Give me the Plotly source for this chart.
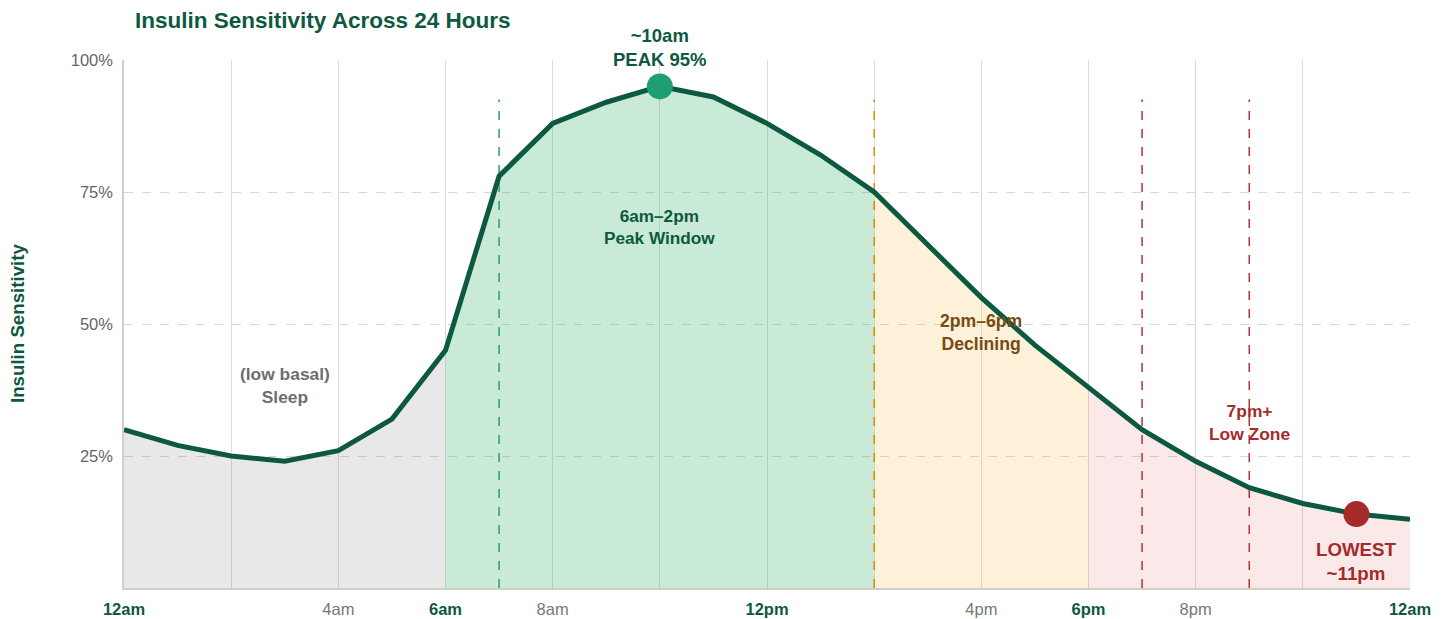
import plotly.graph_objects as go

# Hour of day (0 = midnight) and relative insulin sensitivity (%)
hours = list(range(25))
sensitivity = [30, 27, 25, 24, 26, 32, 45, 78, 88, 92, 95, 93, 88, 82, 75,
               65, 55, 46, 38, 30, 24, 19, 16, 14, 13]

# Shaded zones: (start hour, end hour, fill colour)
zones = [
    (0, 6, "rgba(140,140,140,0.20)"),
    (6, 14, "rgba(72,185,118,0.30)"),
    (14, 18, "rgba(245,185,65,0.20)"),
    (18, 24, "rgba(228,108,108,0.15)"),
]

# Dashed markers at zone edges: (hour, colour)
markers_v = [(7, "#2a9d6f"), (14, "#e08a00"), (19, "#b83232"), (21, "#b83232")]
marker_top = 92.5

tick_vals = [0, 4, 6, 8, 12, 16, 18, 20, 24]
tick_names = ["12am", "4am", "6am", "8am", "12pm", "4pm", "6pm", "8pm", "12am"]
tick_bold = [True, False, True, False, True, False, True, False, True]

y_ticks = [25, 50, 75, 100]
y_labels = ["25%", "50%", "75%", "100%"]

peak_hour, peak_val = 10, 95
low_hour, low_val = 23, 14

DARK = "#0d5940"
FONT = "Liberation Sans, Arial, sans-serif"

fig = go.Figure()

for start, end, color in zones:
    xs = [h for h in hours if start <= h <= end]
    ys = [sensitivity[h] for h in xs]
    fig.add_trace(go.Scatter(x=xs, y=ys, mode="lines", fill="tozeroy",
                             fillcolor=color, line=dict(width=0),
                             hoverinfo="skip", showlegend=False))

for h, c in markers_v:
    fig.add_trace(go.Scatter(x=[h, h], y=[0, marker_top], mode="lines",
                             line=dict(color=c, width=1.5, dash="dash"),
                             hoverinfo="skip", showlegend=False))

fig.add_trace(go.Scatter(x=hours, y=sensitivity, mode="lines",
                         line=dict(color=DARK, width=5),
                         showlegend=False, cliponaxis=False))

fig.add_trace(go.Scatter(x=[peak_hour], y=[peak_val], mode="markers",
                         marker=dict(size=26, color="#1f9e72"),
                         showlegend=False, cliponaxis=False))
fig.add_trace(go.Scatter(x=[low_hour], y=[low_val], mode="markers",
                         marker=dict(size=26, color="#a52a2a"),
                         showlegend=False, cliponaxis=False))

tick_text = []
for name, bold in zip(tick_names, tick_bold):
    if bold:
        tick_text.append(f"<b><span style='color:{DARK}'>{name}</span></b>")
    else:
        tick_text.append(f"<span style='color:#777777'>{name}</span>")

# Peak label sits above the marker, offset in pixels
fig.add_annotation(x=peak_hour, y=peak_val, yshift=39,
                   text="<b>~10am<br>PEAK 95%</b>", showarrow=False,
                   font=dict(size=18.5, color=DARK, family=FONT))

labels = [
    (10, 68.4, "6am–2pm<br>Peak Window", DARK, 17.2),
    (3, 38.4, "(low basal)<br>Sleep", "#6e6e6e", 17.4),
    (16, 48.3, "2pm–6pm<br>Declining", "#7a4a10", 17.6),
    (21, 31.4, "7pm+<br>Low Zone", "#a52a2a", 17.4),
    (low_hour, 5.1, "LOWEST<br>~11pm", "#a52a2a", 18.7),
]
for x, y, txt, col, sz in labels:
    fig.add_annotation(x=x, y=y, text=f"<b>{txt}</b>", showarrow=False,
                       font=dict(size=sz, color=col, family=FONT))

fig.add_annotation(xref="paper", yref="paper", x=0, y=0.5, xshift=-107,
                   xanchor="center", yanchor="middle",
                   text="<b>Insulin Sensitivity</b>", textangle=-90,
                   showarrow=False, font=dict(size=18.7, color=DARK, family=FONT))

fig.update_layout(
    width=1448, height=619,
    margin=dict(l=124, r=38, t=60, b=31),
    plot_bgcolor="white", paper_bgcolor="white",
    font=dict(family=FONT),
    title=dict(text="<b>Insulin Sensitivity Across 24 Hours</b>",
               x=135 / 1448, xanchor="left", xref="container",
               y=1 - 20 / 619, yanchor="middle", yref="container",
               font=dict(size=22.5, color=DARK, family=FONT)),
    xaxis=dict(range=[0, 24], tickvals=tick_vals, ticktext=tick_text,
               automargin=False,
               showgrid=True, gridcolor="#dcdcd2", gridwidth=1,
               minor=dict(tick0=0, dtick=2, showgrid=True,
                          gridcolor="#dcdcd2", gridwidth=1),
               showline=True, linecolor="#d0d0c6", linewidth=1.5,
               ticks="outside", ticklen=5, tickcolor="rgba(0,0,0,0)",
               tickfont=dict(size=16.5, family=FONT), zeroline=False),
    yaxis=dict(range=[0, 100], tickvals=y_ticks, ticktext=y_labels,
               automargin=False,
               showgrid=True, gridcolor="#d8d8cf", griddash="dash",
               showline=True, linecolor="#d0d0c6", linewidth=1.5,
               ticks="outside", ticklen=6, tickcolor="rgba(0,0,0,0)",
               tickfont=dict(size=16.5, color="#666666", family=FONT),
               zeroline=False),
)

fig.write_html("out.html")
